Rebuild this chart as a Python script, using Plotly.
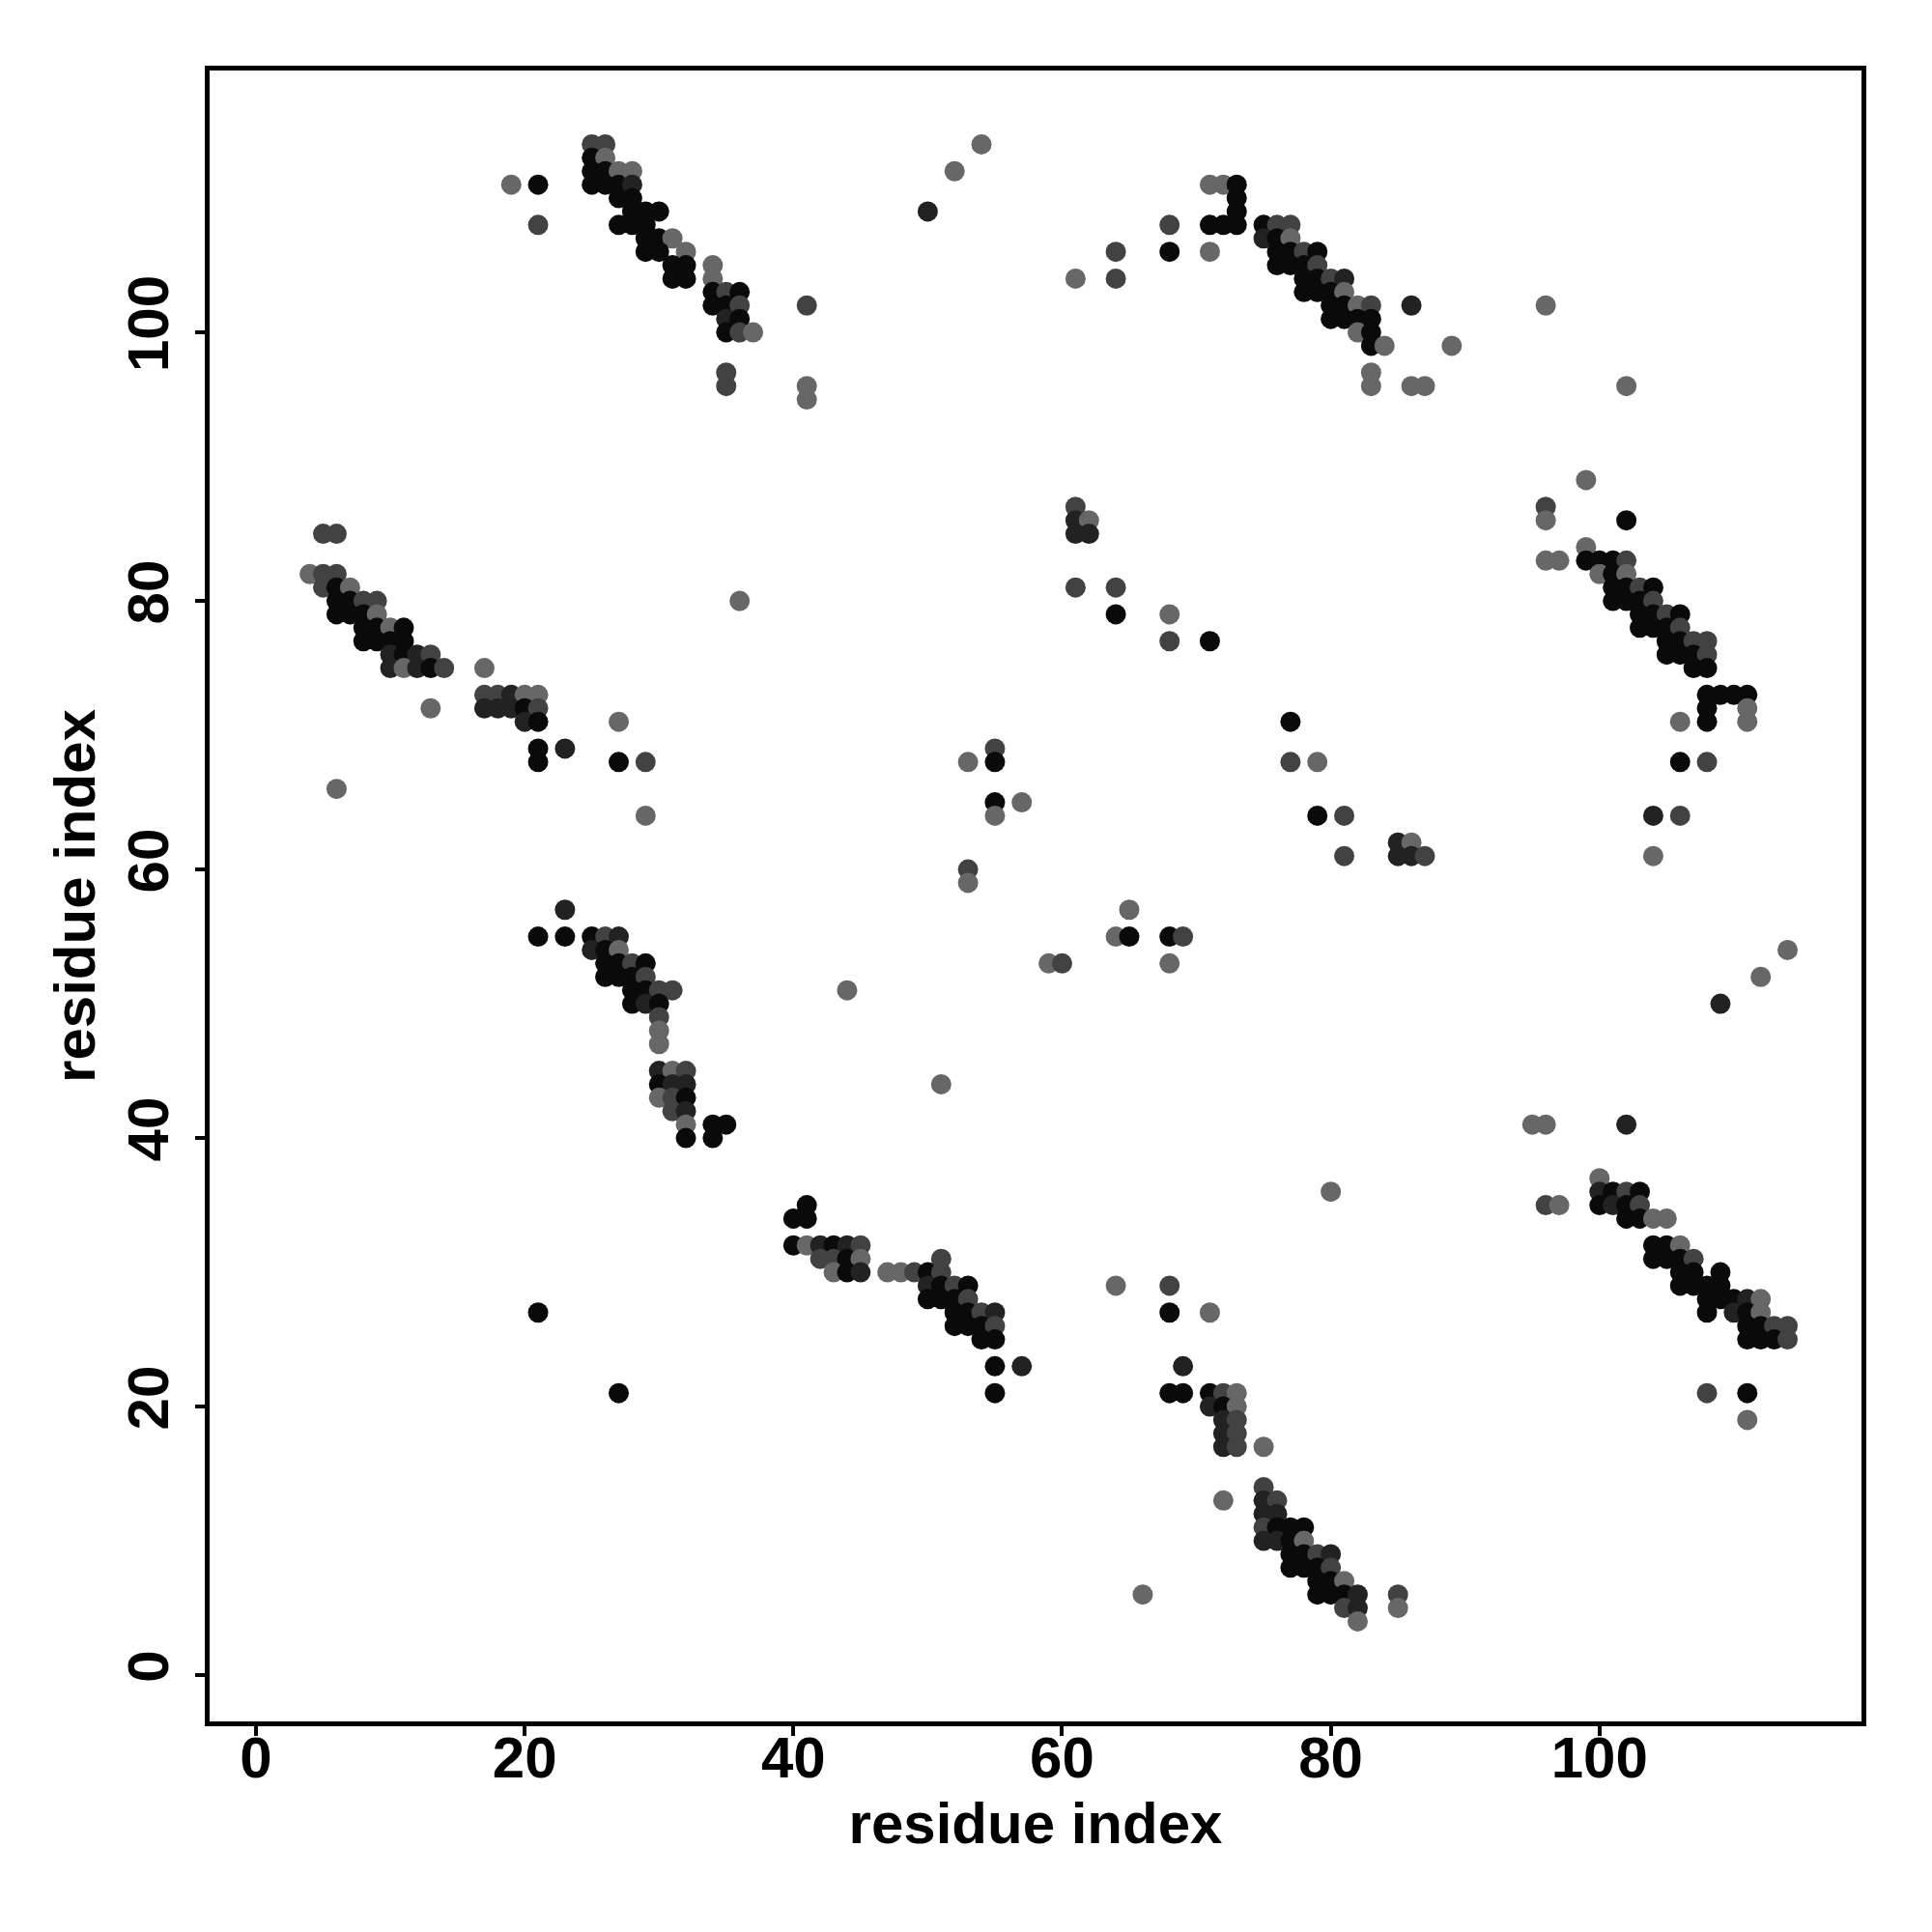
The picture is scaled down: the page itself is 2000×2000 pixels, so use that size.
import plotly.graph_objects as go

# (residue i, residue j, shade level 0=black .. 3=light gray)
cluster_top_left = [
    (19,111,3),(21,111,0),(21,108,2),
    (25,114,2),(26,114,2),(25,113,0),(26,113,3),(25,112,0),(26,112,0),(27,112,3),
    (25,111,0),(26,111,0),(27,111,0),(27,110,0),(27,108,0),
    (28,112,3),(28,111,1),(28,110,0),(28,109,0),(29,109,0),(30,109,0),(28,108,0),(29,108,0),
    (29,107,0),(30,107,0),(31,107,3),(29,106,0),(30,106,0),(32,106,3),(31,105,0),(32,105,0),
    (31,104,0),(32,104,0),(34,105,3),(34,104,3),(34,103,0),(35,103,2),(36,103,0),(34,102,0),
    (35,102,0),(36,102,2),(35,101,1),(36,101,0),(35,100,0),(36,100,2),(37,100,3),(35,97,2),
    (35,96,2),(41,102,2),(41,96,3),(41,95,3),(50,109,1),(52,112,3),(54,114,3),(36,80,3),
]

cluster_top_mid = [
    (61,104,3),(64,106,2),(64,104,2),(68,108,2),(68,106,0),(71,111,3),(72,111,3),(73,111,0),
    (73,110,0),(73,109,0),(71,108,0),(72,108,0),(73,108,0),(71,106,3),
    (75,108,0),(76,108,2),(77,108,2),(75,107,1),(76,107,0),(77,107,3),(76,106,0),(77,106,0),
    (78,106,2),(79,106,0),(76,105,0),(77,105,0),(78,105,0),(79,105,2),(78,104,0),(79,104,0),
    (80,104,2),(81,104,1),(78,103,0),(79,103,0),(80,103,0),(81,103,3),(80,102,0),(81,102,0),
    (82,102,3),(83,102,2),(80,101,0),(81,101,0),(82,101,0),(83,101,0),(82,100,3),(83,100,0),
    (83,99,0),(84,99,3),(83,97,3),(83,96,3),(86,102,1),(86,96,3),(87,96,3),(89,99,3),
    (96,102,3),(102,96,3),
]

cluster_mid_center = [
    (61,87,2),(61,86,1),(62,86,3),(61,85,1),(62,85,1),(61,81,2),(64,81,2),(64,79,0),
    (68,79,3),(68,77,2),(71,77,0),
    (64,55,3),(65,55,0),(65,57,3),(68,55,0),(69,55,2),(59,53,3),(60,53,2),(68,53,3),
    (77,71,0),(77,68,2),(79,68,3),(79,64,0),(81,64,2),(81,61,2),(85,62,1),(86,62,3),
    (85,61,1),(86,61,1),(87,61,2),
]

cluster_mid_right = [
    (99,89,3),(96,87,2),(96,86,3),(102,86,0),(96,83,3),(97,83,3),(99,84,3),(99,83,0),
    (100,83,0),(101,83,0),(102,83,2),(100,82,3),(101,82,0),(102,82,3),(101,81,0),(102,81,0),
    (103,81,2),(104,81,0),(101,80,0),(102,80,0),(103,80,0),(104,80,2),(103,79,0),(104,79,0),
    (105,79,2),(106,79,0),(103,78,0),(104,78,0),(105,78,0),(106,78,2),(105,77,0),(106,77,0),
    (107,77,2),(108,77,2),(105,76,0),(106,76,0),(107,76,0),(108,76,2),(107,75,0),(108,75,0),
    (108,73,0),(109,73,0),(110,73,0),(111,73,0),(108,72,0),(111,72,3),(108,71,0),(111,71,3),
    (106,71,3),(106,68,0),(108,68,2),(104,64,1),(106,64,2),(104,61,3),(114,54,3),(112,52,3),
    (109,50,1),(95,41,3),(96,41,3),(102,41,1),
]

cluster_mid_left = [
    (4,82,3),(5,85,2),(6,85,2),(5,82,2),(6,82,2),(5,81,2),(6,81,0),(7,81,3),(6,80,0),(7,80,0),
    (8,80,2),(9,80,2),(6,79,0),(7,79,0),(8,79,0),(9,79,3),(8,78,0),(9,78,0),(10,78,3),(11,78,0),
    (8,77,0),(9,77,0),(10,77,0),(11,77,0),(10,76,1),(11,76,0),(12,76,1),(13,76,2),(10,75,1),
    (11,75,3),(12,75,1),(13,75,0),(14,75,2),(17,75,3),(13,72,3),
    (17,73,2),(18,73,2),(19,73,1),(20,73,3),(21,73,3),(17,72,1),(18,72,1),(19,72,1),(20,72,0),
    (21,72,2),(20,71,1),(21,71,0),(21,69,0),(21,68,0),(23,69,1),(27,71,3),(27,68,0),(29,68,2),
    (29,64,3),(6,66,3),
]

cluster_center_left = [
    (23,57,1),(21,55,0),(23,55,0),(25,55,0),(26,55,2),(27,55,1),(25,54,1),(26,54,0),(27,54,3),
    (26,53,0),(27,53,0),(28,53,2),(29,53,0),(26,52,0),(27,52,0),(28,52,0),(29,52,2),(28,51,0),
    (29,51,0),(30,51,2),(31,51,2),(28,50,0),(29,50,1),(30,50,0),(30,49,2),(30,48,3),(30,47,3),
    (30,45,1),(31,45,3),(32,45,2),(30,44,0),(31,44,1),(32,44,1),(30,43,3),(31,43,2),(32,43,0),
    (31,42,2),(32,42,1),(32,41,3),(32,40,0),(34,41,0),(35,41,0),(34,40,0),(44,51,3),(51,44,3),
    (53,68,3),(55,69,2),(55,68,0),(55,65,0),(55,64,3),(57,65,3),(53,60,2),(53,59,3),
]

cluster_bottom_right = [
    (100,37,3),(96,35,2),(97,35,3),(100,36,1),(101,36,0),(102,36,2),(103,36,0),(100,35,0),
    (101,35,1),(102,35,0),(103,35,2),(102,34,0),(103,34,0),(104,34,3),(105,34,3),(104,32,0),
    (105,32,0),(106,32,3),(104,31,0),(105,31,0),(106,31,0),(107,31,2),(106,30,0),(107,30,0),
    (109,30,0),(106,29,0),(107,29,0),(108,29,0),(109,29,0),(108,28,0),(109,28,0),(110,28,0),
    (111,28,1),(112,28,3),(108,27,0),(110,27,1),(111,27,0),(112,27,3),(111,26,0),(112,26,0),
    (113,26,2),(114,26,2),(111,25,0),(112,25,0),(113,25,0),(114,25,2),(108,21,2),(111,21,0),
    (111,19,3),
]

cluster_bottom_mid = [
    (80,36,3),(64,29,3),(68,29,2),(68,27,0),(71,27,3),(69,23,1),(68,21,0),(69,21,0),(71,21,0),
    (72,21,2),(73,21,3),(71,20,1),(72,20,0),(73,20,3),(72,19,1),(73,19,2),(72,18,1),(73,18,2),
    (72,17,1),(73,17,2),(75,17,3),(72,13,3),(75,14,2),(75,13,1),(76,13,2),(75,12,1),(76,12,1),
    (75,11,2),(76,11,0),(77,11,0),(78,11,0),(75,10,1),(76,10,1),(77,10,0),(78,10,3),(77,9,0),
    (78,9,0),(79,9,2),(80,9,1),(77,8,0),(78,8,0),(79,8,0),(80,8,2),(79,7,0),(80,7,0),(81,7,3),
    (79,6,0),(80,6,0),(81,6,0),(82,6,1),(81,5,2),(82,5,1),(82,4,3),(85,6,2),(85,5,3),(66,6,3),
]

cluster_bottom_left = [
    (41,35,0),(40,34,0),(41,34,0),(40,32,0),(41,32,3),(42,32,1),(43,32,0),(44,32,1),(45,32,2),
    (42,31,2),(43,31,2),(44,31,0),(45,31,3),(43,30,3),(44,30,0),(45,30,1),(47,30,3),(48,30,3),
    (49,30,2),(50,30,0),(51,30,2),(51,31,2),(50,29,1),(51,29,0),(52,29,2),(53,29,0),(50,28,0),
    (51,28,0),(52,28,0),(53,28,2),(52,27,0),(53,27,0),(54,27,2),(55,27,1),(52,26,0),(53,26,0),
    (54,26,0),(55,26,2),(54,25,0),(55,25,0),(55,23,0),(57,23,1),(55,21,0),(27,21,0),(21,27,0),
]

shade_colors = ["#0a0a0a", "#222222", "#424242", "#676767"]
tick_values = [0, 20, 40, 60, 80, 100]
axis_label = "residue index"

clusters = [cluster_top_left, cluster_top_mid, cluster_mid_center, cluster_mid_right,
            cluster_mid_left, cluster_center_left, cluster_bottom_right,
            cluster_bottom_mid, cluster_bottom_left]
pts = [p for c in clusters for p in c]
xs = [p[0] for p in pts]
ys = [p[1] for p in pts]
cols = [shade_colors[p[2]] for p in pts]

fig = go.Figure(go.Scatter(
    x=xs, y=ys, mode="markers",
    marker=dict(size=21, color=cols, line=dict(width=0)),
    showlegend=False,
))

font_family = "Liberation Sans, Arial, Helvetica, sans-serif"
axis_common = dict(
    range=[-3.45, 119.5], tickvals=tick_values, ticktext=[str(v) for v in tick_values],
    showgrid=False, zeroline=False, showline=True, mirror=True,
    linecolor="black", linewidth=5, ticks="outside", ticklen=10, tickwidth=4,
    tickcolor="black",
    tickfont=dict(family=font_family, size=60, color="black", weight="bold"),
)

fig.update_layout(
    width=2000, height=2000,
    margin=dict(l=209, r=81, t=65, b=226),
    paper_bgcolor="white", plot_bgcolor="white",
    xaxis=dict(**axis_common, ticklabelstandoff=-29,
               title=dict(text="<b>" + axis_label + "</b>", standoff=15,
                          font=dict(family=font_family, size=60, color="black"))),
    yaxis=dict(**axis_common, tickangle=-90, ticklabelstandoff=4,
               title=dict(text="<b>" + axis_label + "</b>", standoff=4,
                          font=dict(family=font_family, size=60, color="black"))),
)

fig.write_html("out.html")
